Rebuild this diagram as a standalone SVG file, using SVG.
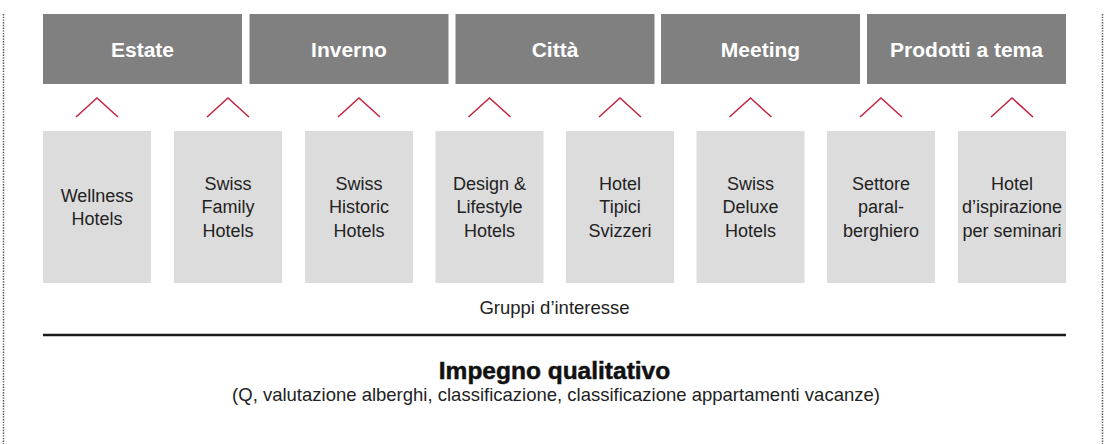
<svg xmlns="http://www.w3.org/2000/svg" width="1104" height="444" viewBox="0 0 1104 444">
<style>
.bar{fill:#808080}
.bt{font-family:"Liberation Sans",Arial,sans-serif;font-weight:bold;font-size:21px;fill:#ffffff;text-anchor:middle}
.box{fill:#dcdcdc}
.t{font-family:"Liberation Sans",Arial,sans-serif;font-size:18px;fill:#222222;text-anchor:middle}
.chev{fill:none;stroke:#c4243f;stroke-width:1.5}
.dot{stroke:#555555;stroke-width:1.5;stroke-dasharray:1.4 1.3}
</style>
<rect width="1104" height="444" fill="#ffffff"/>
<line class="dot" x1="3.5" y1="14" x2="3.5" y2="444"/>
<line class="dot" x1="1102.5" y1="14" x2="1102.5" y2="444"/>
<g id="bar-estate"><rect class="bar" x="43" y="14" width="199" height="70"/><text class="bt" x="142.5" y="57">Estate</text></g>
<g id="bar-inverno"><rect class="bar" x="249.5" y="14" width="199" height="70"/><text class="bt" x="349" y="57">Inverno</text></g>
<g id="bar-citta"><rect class="bar" x="455.5" y="14" width="199" height="70"/><text class="bt" x="555" y="57">Città</text></g>
<g id="bar-meeting"><rect class="bar" x="661" y="14" width="199" height="70"/><text class="bt" x="760.5" y="57">Meeting</text></g>
<g id="bar-prodotti"><rect class="bar" x="867" y="14" width="199" height="70"/><text class="bt" x="966.5" y="57">Prodotti a tema</text></g>
<g id="connectors">
<polyline class="chev" points="76,117 97,98 118,117"/>
<polyline class="chev" points="207,117 228,98 249,117"/>
<polyline class="chev" points="338,117 359,98 380,117"/>
<polyline class="chev" points="468.5,117 489.5,98 510.5,117"/>
<polyline class="chev" points="599,117 620,98 641,117"/>
<polyline class="chev" points="729.5,117 750.5,98 771.5,117"/>
<polyline class="chev" points="860,117 881,98 902,117"/>
<polyline class="chev" points="991,117 1012,98 1033,117"/>
</g>
<g id="box-wellness"><rect class="box" x="43" y="131" width="108" height="152"/><text class="t" x="97" y="201.7">Wellness</text><text class="t" x="97" y="225">Hotels</text></g>
<g id="box-family"><rect class="box" x="174" y="131" width="108" height="152"/><text class="t" x="228" y="190">Swiss</text><text class="t" x="228" y="213.3">Family</text><text class="t" x="228" y="236.6">Hotels</text></g>
<g id="box-historic"><rect class="box" x="305" y="131" width="108" height="152"/><text class="t" x="359" y="190">Swiss</text><text class="t" x="359" y="213.3">Historic</text><text class="t" x="359" y="236.6">Hotels</text></g>
<g id="box-design"><rect class="box" x="435.5" y="131" width="108" height="152"/><text class="t" x="489.5" y="190">Design &amp;</text><text class="t" x="489.5" y="213.3">Lifestyle</text><text class="t" x="489.5" y="236.6">Hotels</text></g>
<g id="box-tipici"><rect class="box" x="566" y="131" width="108" height="152"/><text class="t" x="620" y="190">Hotel</text><text class="t" x="620" y="213.3">Tipici</text><text class="t" x="620" y="236.6">Svizzeri</text></g>
<g id="box-deluxe"><rect class="box" x="696.5" y="131" width="108" height="152"/><text class="t" x="750.5" y="190">Swiss</text><text class="t" x="750.5" y="213.3">Deluxe</text><text class="t" x="750.5" y="236.6">Hotels</text></g>
<g id="box-para"><rect class="box" x="827" y="131" width="108" height="152"/><text class="t" x="881" y="190">Settore</text><text class="t" x="881" y="213.3">paral-</text><text class="t" x="881" y="236.6">berghiero</text></g>
<g id="box-seminari"><rect class="box" x="958" y="131" width="108" height="152"/><text class="t" x="1012" y="190">Hotel</text><text class="t" x="1012" y="213.3">d’ispirazione</text><text class="t" x="1012" y="236.6">per seminari</text></g>
<text class="t" x="554.5" y="314" style="font-size:18.5px">Gruppi d’interesse</text>
<line x1="43" y1="335" x2="1066" y2="335" stroke="#1a1a1a" stroke-width="2.5"/>
<g id="impegno">
<text x="554.5" y="379.3" style="font-family:'Liberation Sans',Arial,sans-serif;font-weight:bold;font-size:24.5px;fill:#111111;text-anchor:middle;stroke:#111111;stroke-width:0.5">Impegno qualitativo</text>
<text class="t" x="556" y="401" style="font-size:18.5px">(Q, valutazione alberghi, classificazione, classificazione appartamenti vacanze)</text>
</g>
</svg>
